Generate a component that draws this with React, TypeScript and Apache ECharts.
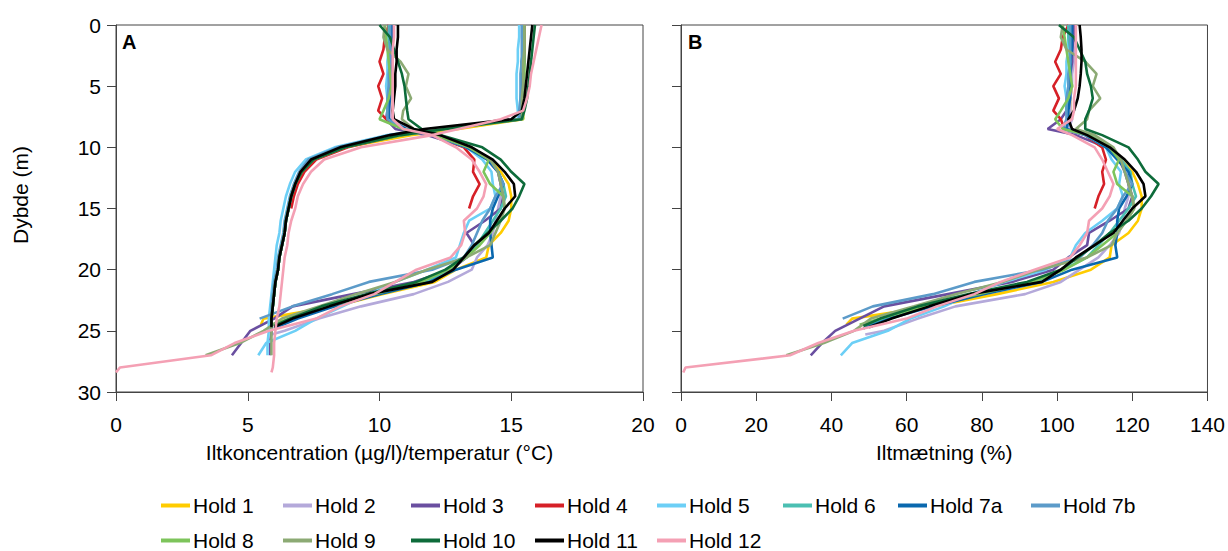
import React, { useEffect, useRef } from 'react';
import * as echarts from 'echarts';

// Depth grid (m) shared by all profiles
const DEPTHS = [0, 1, 2, 3, 4, 5, 6, 7, 7.7, 8.5, 9, 10, 11, 12, 13, 14, 15, 16, 17, 18, 19, 20, 21, 22, 23, 24, 25, 26, 27, 28, 28.4];

const HOLD_NAMES = ['Hold 1', 'Hold 2', 'Hold 3', 'Hold 4', 'Hold 5', 'Hold 6', 'Hold 7a', 'Hold 7b', 'Hold 8', 'Hold 9', 'Hold 10', 'Hold 11', 'Hold 12'];
const HOLD_COLORS = ['#FFCC00', '#B4A9DA', '#6A4FA0', '#D62027', '#6CCFF6', '#4BBFB2', '#0A68AE', '#5C9BC9', '#7DC45B', '#8CAA74', '#0D6B3A', '#000000', '#F4A0B4'];
// last sample depth when it is not on the grid
const HOLD_END_DEPTH = [24.5, 25.3, null, null, null, 24.8, 24.8, null, 24.5, null, 24.6, 24.7, null];

// Temperature (°C)
const T1 = [15.5, 15.5, 15.5, 15.45, 15.45, 15.45, 15.45, 15.45, 15.45, 13.0, 11.2, 8.7, 7.5, 7.05, 6.8, 6.65, 6.55, 6.45, 6.4, 6.3, 6.2, 6.15, 6.05, 6.0, 5.95, 5.9, 5.9];
const T2 = [15.5, 15.5, 15.5, 15.5, 15.45, 15.45, 15.4, 15.4, 15.35, 12.2, 10.7, 8.6, 7.45, 7.0, 6.8, 6.65, 6.55, 6.45, 6.4, 6.3, 6.2, 6.15, 6.05, 6.0, 5.95, 5.9, 5.9, 5.9];
const T3 = [15.5, 15.5, 15.5, 15.5, 15.45, 15.45, 15.4, 15.4, 15.35, 12.2, 10.6, 8.6, 7.45, 7.0, 6.8, 6.65, 6.55, 6.45, 6.4, 6.3, 6.2, 6.15, 6.05, 6.0, 5.95, 5.9, 5.9, 5.85, 5.85];
const T4 = [15.5, 15.5, 15.5, 15.45, 15.45, 15.4, 15.4, 15.35, 15.3, 12.2, 10.8, 8.8, 7.6, 7.15, 6.9, 6.75, 6.65];
const T5 = [15.3, 15.3, 15.25, 15.25, 15.2, 15.2, 15.2, 15.25, 15.25, 12.0, 10.3, 8.3, 7.2, 6.8, 6.6, 6.45, 6.35, 6.25, 6.2, 6.1, 6.05, 6.0, 5.95, 5.9, 5.85, 5.8, 5.8, 5.75, 5.75];
const T6 = [15.45, 15.45, 15.45, 15.4, 15.4, 15.4, 15.35, 15.35, 15.3, 12.1, 10.5, 8.5, 7.4, 7.0, 6.8, 6.65, 6.55, 6.45, 6.4, 6.3, 6.2, 6.15, 6.05, 6.0, 5.95, 5.9, 5.9];
const T7A = [15.45, 15.45, 15.45, 15.4, 15.4, 15.4, 15.4, 15.35, 15.35, 12.1, 10.5, 8.5, 7.4, 7.0, 6.8, 6.65, 6.55, 6.45, 6.4, 6.3, 6.2, 6.15, 6.05, 6.0, 5.95, 5.9, 5.9];
const T7B = [15.4, 15.4, 15.4, 15.4, 15.35, 15.35, 15.35, 15.3, 15.3, 12.0, 10.4, 8.4, 7.3, 6.95, 6.75, 6.6, 6.5, 6.4, 6.35, 6.25, 6.15, 6.1, 6.0, 5.95, 5.9, 5.9];
const T8 = [15.5, 15.5, 15.5, 15.5, 15.5, 15.45, 15.45, 15.45, 15.45, 12.6, 10.9, 8.7, 7.5, 7.05, 6.8, 6.65, 6.55, 6.45, 6.4, 6.3, 6.2, 6.15, 6.05, 6.0, 5.95, 5.9, 5.9];
const T9 = [15.5, 15.5, 15.5, 15.45, 15.45, 15.45, 15.4, 15.4, 15.4, 12.4, 10.7, 8.6, 7.45, 7.0, 6.8, 6.65, 6.55, 6.45, 6.4, 6.3, 6.2, 6.15, 6.05, 6.0, 5.95, 5.9, 5.9, 5.9, 5.9];
const T10 = [15.9, 15.85, 15.8, 15.75, 15.7, 15.65, 15.6, 15.5, 15.4, 12.5, 10.8, 8.7, 7.5, 7.05, 6.8, 6.65, 6.55, 6.45, 6.4, 6.3, 6.2, 6.15, 6.05, 6.0, 5.95, 5.9, 5.9];
const T11 = [15.8, 15.75, 15.7, 15.65, 15.6, 15.55, 15.5, 15.4, 15.0, 11.7, 10.4, 8.5, 7.4, 7.0, 6.8, 6.65, 6.55, 6.45, 6.4, 6.3, 6.2, 6.15, 6.05, 6.0, 5.95, 5.9, 5.9];
const T12 = [16.15, 16.05, 15.95, 15.85, 15.75, 15.7, 15.6, 15.45, 14.6, 13.0, 12.0, 9.3, 7.9, 7.4, 7.1, 6.9, 6.8, 6.65, 6.55, 6.5, 6.4, 6.35, 6.3, 6.25, 6.2, 6.1, 6.05, 6.0, 6.0, 5.95, 5.9];

// Oxygen concentration
const O1 = [10.45, 10.45, 10.45, 10.4, 10.4, 10.45, 10.4, 10.4, 10.4, 11.0, 12.1, 13.4, 14.2, 14.6, 14.9, 15.0, 15.0, 14.9, 14.6, 14.15, 14.05, 12.9, 12.1, 10.1, 8.3, 5.6, 5.5];
const O2 = [10.45, 10.45, 10.5, 10.5, 10.45, 10.45, 10.4, 10.4, 10.45, 11.1, 12.2, 13.4, 14.1, 14.5, 14.6, 14.6, 14.5, 14.4, 14.3, 14.1, 13.7, 13.5, 12.6, 11.3, 9.3, 7.7, 6.4, 5.9];
const O3 = [10.5, 10.5, 10.45, 10.45, 10.4, 10.4, 10.35, 10.3, 10.25, 10.6, 11.8, 13.3, 14.1, 14.5, 14.6, 14.7, 14.6, 14.0, 13.3, 13.6, 13.3, 12.7, 11.3, 9.0, 6.7, 6.0, 5.1, 4.75, 4.4];
const O4 = [10.35, 10.2, 10.15, 10.0, 10.15, 9.95, 10.1, 9.95, 10.25, 11.0, 12.0, 13.2, 13.6, 13.55, 13.8, 13.55, 13.4];
const O5 = [10.4, 10.35, 10.35, 10.3, 10.3, 10.25, 10.3, 10.3, 10.35, 11.0, 12.0, 13.3, 13.9, 14.25, 14.3, 14.4, 14.2, 13.4, 13.2, 13.05, 12.9, 11.8, 10.6, 9.6, 8.6, 7.6, 6.8, 5.7, 5.4];
const O6 = [10.35, 10.35, 10.4, 10.4, 10.4, 10.35, 10.35, 10.3, 10.35, 11.0, 12.1, 13.4, 14.2, 14.5, 14.7, 14.8, 14.6, 14.3, 14.0, 13.7, 13.3, 12.6, 11.8, 9.8, 8.0, 6.7, 6.0];
const O7A = [10.45, 10.45, 10.45, 10.4, 10.4, 10.4, 10.4, 10.35, 10.35, 11.0, 12.0, 13.3, 14.1, 14.5, 14.7, 14.5, 14.3, 14.2, 14.2, 14.25, 14.3, 12.9, 11.9, 10.0, 8.3, 6.9, 6.0];
const O7B = [10.4, 10.4, 10.4, 10.4, 10.35, 10.35, 10.3, 10.3, 10.3, 10.9, 12.0, 13.4, 14.2, 14.5, 14.7, 14.4, 14.2, 13.9, 13.7, 13.5, 13.2, 12.0, 9.6, 8.2, 6.7, 5.45];
const O8 = [10.2, 10.25, 10.3, 10.35, 10.4, 10.45, 10.35, 10.15, 10.0, 10.9, 12.1, 13.4, 14.15, 13.95, 14.2, 14.7, 14.75, 14.5, 14.2, 13.8, 13.3, 12.6, 11.6, 9.8, 8.0, 6.6, 5.9];
const O9 = [10.2, 10.15, 10.3, 10.8, 11.1, 11.0, 11.2, 10.9, 10.85, 11.3, 12.3, 13.5, 14.2, 14.5, 14.6, 14.7, 14.75, 14.6, 14.4, 14.2, 13.3, 11.8, 10.6, 9.1, 7.7, 6.3, 5.6, 4.7, 3.4];
const O10 = [10.0, 10.4, 10.55, 10.7, 10.85, 10.95, 11.0, 11.05, 11.1, 11.6, 12.3, 13.9, 14.6, 15.0, 15.5, 15.3, 15.05, 14.6, 14.1, 13.6, 13.2, 12.5, 11.4, 9.5, 7.8, 6.6, 6.0];
const O11 = [10.7, 10.7, 10.65, 10.65, 10.6, 10.6, 10.55, 10.5, 10.55, 11.3, 12.3, 13.5, 14.3, 14.75, 15.1, 15.15, 14.75, 14.45, 14.15, 13.6, 13.2, 12.8, 12.0, 9.6, 8.1, 6.7, 6.0];
const O12 = [10.55, 10.55, 10.5, 10.5, 10.5, 10.5, 10.5, 10.5, 10.5, 10.9, 12.0, 12.9, 13.5, 13.8, 14.05, 13.95, 13.7, 13.2, 13.25, 13.1, 12.7, 11.4, 10.6, 9.8, 8.5, 7.6, 5.8, 4.5, 3.6, 0.15, 0.0];

// Oxygen saturation (%)
const S1 = [104, 104, 104, 103.5, 103.5, 104, 103.5, 103.5, 103.5, 102.5, 108.5, 114, 117, 120, 121.5, 122.5, 122.5, 121.5, 119, 114.5, 114, 109, 99, 84, 67, 45.5, 44];
const S2 = [104, 104, 104.5, 104.5, 104, 104, 103.5, 103.5, 104, 103, 109, 114, 116.5, 119, 119, 119, 118, 117.5, 116.5, 114, 111, 106, 101, 91.5, 73, 63, 54, 49];
const S3 = [104.5, 104.5, 104, 104, 103.5, 103.5, 103, 102.5, 101, 97.5, 105, 113, 116.5, 118, 119, 120, 119, 114, 108.5, 108, 103, 99, 88, 71, 54, 47.5, 41, 37.5, 34.5];
const S4 = [103, 101.5, 101, 99.5, 101, 99, 100.5, 99, 101, 102, 107.5, 112, 113, 112, 112.5, 111, 110];
const S5 = [103.5, 103, 103, 102.5, 102.5, 102, 102.5, 102.5, 103, 102.5, 107.5, 113, 114.5, 117, 116.5, 117.5, 116, 112, 107.5, 105, 103.5, 97, 86, 77, 70, 61, 55, 45.5, 42.5];
const S6 = [103, 103, 103.5, 103.5, 103.5, 103, 103, 102.5, 103, 102.5, 108.5, 114, 117, 119.5, 120, 121, 119, 116.5, 114, 111, 108, 101.5, 95, 79, 64.5, 54, 48.5];
const S7A = [104, 104, 104, 103.5, 103.5, 103.5, 103.5, 103, 103, 102.5, 107.5, 113, 116, 119, 120, 118.5, 116.5, 116, 116, 115.5, 116, 104, 96, 80.5, 67, 55.5, 48.5];
const S7B = [103.5, 103.5, 103.5, 103.5, 103, 103, 102.5, 102.5, 102.5, 101.5, 107.5, 114, 117, 118, 120, 117.5, 116, 113.5, 112, 109.5, 106, 96, 78, 67, 51, 43];
const S8 = [101.5, 102, 102.5, 103, 103.5, 104, 103, 101, 99.5, 101.5, 108.5, 114, 116.5, 115, 116, 120, 120.5, 118.5, 116, 112, 108, 102, 93.5, 79, 64.5, 53, 47.5];
const S9 = [101.5, 101, 102.5, 107.5, 110.5, 109.5, 111.5, 108.5, 108, 105, 110, 115, 117, 118, 119, 120, 120.5, 118.5, 116, 114.5, 108, 95, 85.5, 73, 62, 50.5, 46, 38, 28];
const S10 = [100.5, 104.5, 106, 107.5, 108, 109, 109.5, 108.5, 107.5, 107.5, 112, 119, 121.5, 123.5, 127, 125, 122.5, 119, 114, 110, 105.5, 101, 92, 76.5, 63, 53, 48.5];
const S11 = [106, 106.3, 106.5, 106.5, 106.3, 106, 105.5, 104.5, 103, 104, 108, 114, 118, 121, 123, 123.5, 120, 117.5, 115, 110, 105, 101, 96, 77, 66, 56, 50];
const S12 = [105, 105, 105, 105, 105, 105, 104.5, 104.5, 104, 100, 104, 110, 112, 113.5, 115, 114, 112, 108.5, 108, 106, 103.5, 94, 85, 78, 68, 60, 46, 36.5, 29, 1.2, 0.6];

const TEMPS = [T1, T2, T3, T4, T5, T6, T7A, T7B, T8, T9, T10, T11, T12];
const OXY = [O1, O2, O3, O4, O5, O6, O7A, O7B, O8, O9, O10, O11, O12];
const SATS = [S1, S2, S3, S4, S5, S6, S7A, S7B, S8, S9, S10, S11, S12];

const X_TICKS_A = [0, 20, 5];
const X_TICKS_B = [0, 140, 20];
const Y_TICKS = [0, 30, 5];

const FONT = '"Liberation Sans", Arial, sans-serif';

function toPoints(vals: number[], end: number | null) {
  return vals.map((v, i) => [v, end != null && i === vals.length - 1 ? end : DEPTHS[i]]);
}

export default function App() {
  const ref = useRef<HTMLDivElement>(null);
  useEffect(() => {
    if (!ref.current) return;
    const chart = echarts.init(ref.current, null, { renderer: 'svg' });
    const series: any[] = [];
    HOLD_NAMES.forEach((name, i) => {
      const color = HOLD_COLORS[i];
      const end = HOLD_END_DEPTH[i];
      const common = {
        name,
        type: 'line',
        showSymbol: false,
        symbol: 'none',
        silent: true,
        lineStyle: { width: 2.6, color },
        itemStyle: { color },
        emphasis: { disabled: true },
      };
      series.push({ ...common, xAxisIndex: 0, yAxisIndex: 0, data: toPoints(TEMPS[i], end) });
      series.push({ ...common, xAxisIndex: 0, yAxisIndex: 0, data: toPoints(OXY[i], end) });
      series.push({ ...common, xAxisIndex: 1, yAxisIndex: 1, data: toPoints(SATS[i], end) });
    });

    // legend laid out as a grid: 8 columns, 2 rows
    const colLeft = [161, 283, 411, 535, 657, 783, 898, 1031];
    const rowTop = [495, 530];
    const legends = HOLD_NAMES.map((name, i) => ({
      data: [name],
      left: colLeft[i % 8],
      top: rowTop[Math.floor(i / 8)],
      orient: 'horizontal',
      icon: 'rect',
      itemWidth: 29,
      itemHeight: 4,
      itemGap: 0,
      padding: 0,
      selectedMode: false,
      textStyle: { fontSize: 21, color: '#000', fontFamily: FONT, padding: [0, 0, 0, -2] },
    }));

    const axisLine = { show: true, onZero: false, lineStyle: { color: '#444', width: 1 } };
    const axisTick = { show: true, length: 9, lineStyle: { color: '#444', width: 1 } };
    const label = { fontSize: 21, color: '#000', fontFamily: FONT };

    chart.setOption({
      animation: false,
      textStyle: { fontFamily: FONT },
      grid: [
        { left: 116, top: 25, width: 527, height: 367, show: true, borderColor: '#444', borderWidth: 1 },
        { left: 681, top: 25, width: 529, height: 367, show: true, borderColor: '#444', borderWidth: 1 },
      ],
      xAxis: [
        {
          gridIndex: 0, type: 'value', min: X_TICKS_A[0], max: X_TICKS_A[1], interval: X_TICKS_A[2],
          name: 'Iltkoncentration (µg/l)/temperatur (°C)', nameLocation: 'middle', nameGap: 50,
          nameTextStyle: { ...label },
          axisLine, axisTick, axisLabel: { ...label, margin: 22 }, splitLine: { show: false },
        },
        {
          gridIndex: 1, type: 'value', min: X_TICKS_B[0], max: X_TICKS_B[1], interval: X_TICKS_B[2],
          name: 'Iltmætning (%)', nameLocation: 'middle', nameGap: 50,
          nameTextStyle: { ...label },
          axisLine, axisTick, axisLabel: { ...label, margin: 22 }, splitLine: { show: false },
        },
      ],
      yAxis: [
        {
          gridIndex: 0, type: 'value', inverse: true, min: Y_TICKS[0], max: Y_TICKS[1], interval: Y_TICKS[2],
          axisLine, axisTick, axisLabel: { ...label, margin: 15 }, splitLine: { show: false },
        },
        {
          gridIndex: 1, type: 'value', inverse: true, min: Y_TICKS[0], max: Y_TICKS[1], interval: Y_TICKS[2],
          axisLine, axisTick, axisLabel: { show: false }, splitLine: { show: false },
        },
      ],
      legend: legends,
      graphic: [
        {
          type: 'text', x: 122, y: 42,
          style: { text: 'A', fontSize: 20, fontWeight: 'bold', fill: '#000', fontFamily: FONT, verticalAlign: 'middle', textVerticalAlign: 'middle' },
        },
        {
          type: 'text', x: 688, y: 42,
          style: { text: 'B', fontSize: 20, fontWeight: 'bold', fill: '#000', fontFamily: FONT, verticalAlign: 'middle', textVerticalAlign: 'middle' },
        },
        {
          type: 'text', x: 20, y: 195, rotation: Math.PI / 2,
          style: { text: 'Dybde (m)', fontSize: 21, fill: '#000', fontFamily: FONT, align: 'center', textAlign: 'center', verticalAlign: 'middle', textVerticalAlign: 'middle' },
        },
      ],
      series,
    });
    return () => chart.dispose();
  }, []);
  return <div ref={ref} style={{ position: 'absolute', left: 0, top: 0, width: 1228, height: 551 }} />;
}
